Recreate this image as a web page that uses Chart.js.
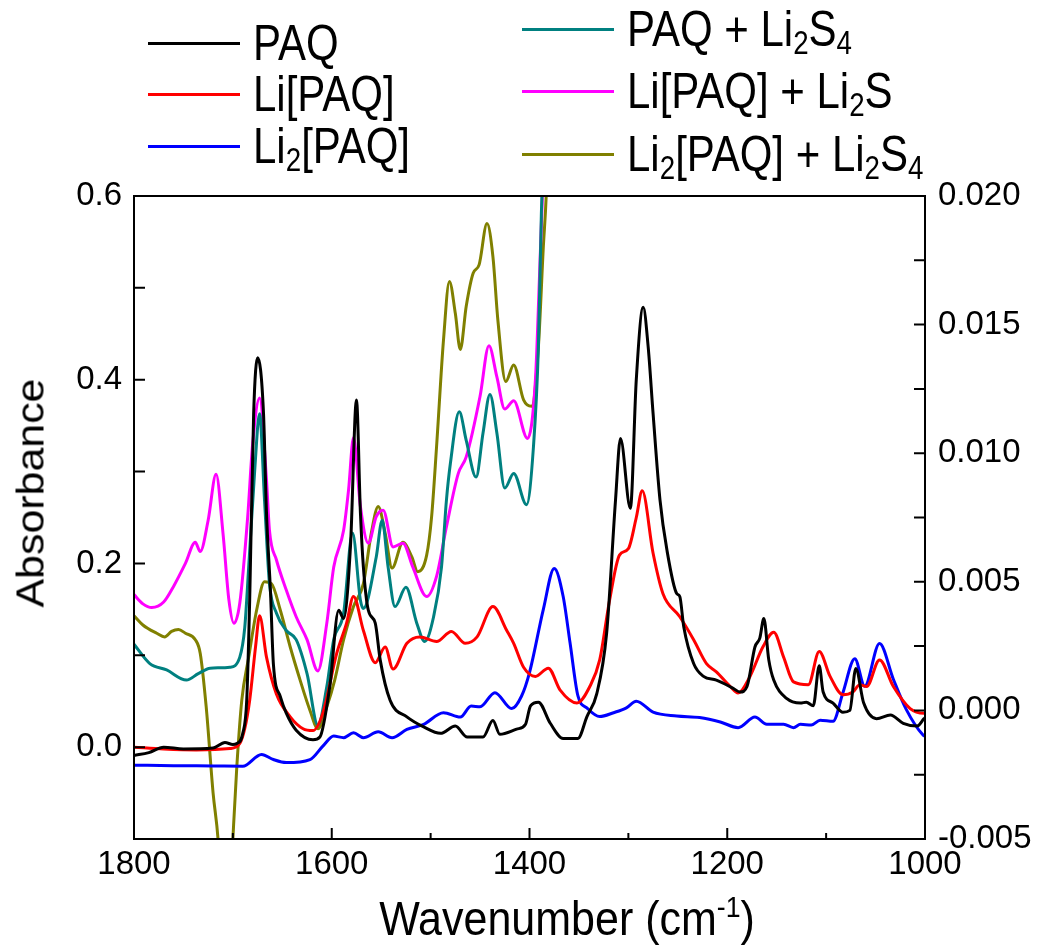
<!DOCTYPE html>
<html lang="en">
<head>
<meta charset="UTF-8">
<title>FTIR spectra</title>
<script src="https://cdn.jsdelivr.net/npm/chart.js@4.4.1/dist/chart.umd.min.js"></script>
<style>
    body { margin: 0; background: #fff; }
    #wrap {
        position: relative;
        width: 1039px;
        height: 949px;
        font-family: "Liberation Sans", Arial, sans-serif;
        color: #000;
    }
    #wrap canvas { position: absolute; left: 0; top: 0; }
    .row {
        position: absolute;
        height: 42px;
        display: flex;
        align-items: center;
        transform: translateY(-50%);
        font-size: 42px;
        line-height: 1;
        white-space: nowrap;
    }
    .row .txt { display: inline-block; transform: scaleY(1.2); }
    .swatch {
        display: inline-block;
        width: 92px;
        height: 0;
        border-top: 3px solid;
        margin-right: 13px;
    }
    .title { position: absolute; line-height: 1; white-space: nowrap; }
    sub { font-size: 0.66em; vertical-align: -0.26em; line-height: 0; }
    sup { font-size: 0.62em; vertical-align: 0.62em; line-height: 0; }
</style>
</head>
<body>
<div id="wrap">
    <canvas id="spec" width="1039" height="949"></canvas>

    <!-- legend, left column -->
    <div class="row" style="left:148px; top:43px;"><span class="swatch" style="color:#000000"></span><span class="txt">PAQ</span></div>
    <div class="row" style="left:148px; top:94px;"><span class="swatch" style="color:#ff0000"></span><span class="txt">Li[PAQ]</span></div>
    <div class="row" style="left:148px; top:146px;"><span class="swatch" style="color:#0000ff"></span><span class="txt">Li<sub>2</sub>[PAQ]</span></div>
    <!-- legend, right column -->
    <div class="row" style="left:522px; top:29px;"><span class="swatch" style="color:#008080"></span><span class="txt">PAQ + Li<sub>2</sub>S<sub>4</sub></span></div>
    <div class="row" style="left:522px; top:91px;"><span class="swatch" style="color:#ff00ff"></span><span class="txt">Li[PAQ] + Li<sub>2</sub>S</span></div>
    <div class="row" style="left:522px; top:154px;"><span class="swatch" style="color:#808000"></span><span class="txt">Li<sub>2</sub>[PAQ] + Li<sub>2</sub>S<sub>4</sub></span></div>

    <div class="title" style="font-size:39px; left:30px; top:493px; transform:translate(-50%,-50%) rotate(-90deg) scaleX(1.1);">Absorbance</div>
    <div class="title" style="font-size:43px; left:567px; top:898px; transform:translateX(-50%) scaleY(1.1);">Wavenumber (cm<sup>-1</sup>)</div>
</div>
<script>
// [wavenumber, absorbance] pairs for each spectrum
const paq = [[1800,-0.009],[1785,-0.006],[1770,0.0],[1750,-0.002],[1720,-0.001],[1708,0.005],[1700,0.003],[1696,0.004],
    [1690,0.015],[1686,0.051],[1683,0.16],[1679,0.363],[1675,0.424],[1669,0.363],[1666,0.255],[1662,0.17],[1659,0.09],
    [1652,0.055],[1646,0.037],[1636,0.0185],[1619,0.008],[1612,0.011],[1602,0.066],[1593,0.149],[1588,0.14],[1581,0.22],
    [1575,0.378],[1571,0.255],[1568,0.196],[1563,0.149],[1556,0.135],[1551,0.095],[1541,0.051],[1524,0.033],[1507,0.022],
    [1490,0.015],[1475,0.023],[1463,0.011],[1447,0.011],[1437,0.029],[1430,0.014],[1413,0.0196],[1404,0.025],[1399,0.045],
    [1391,0.049],[1379,0.026],[1366,0.0095],[1351,0.0095],[1342,0.033],[1332,0.058],[1322,0.124],[1313,0.269],[1308,0.336],
    [1298,0.26],[1292,0.40],[1285,0.479],[1280,0.436],[1275,0.363],[1268,0.269],[1261,0.2145],[1251,0.167],[1248,0.164],
    [1244,0.131],[1234,0.091],[1224,0.077],[1211,0.073],[1194,0.064],[1187,0.060],[1180,0.066],[1172,0.109],[1167,0.119],
    [1163,0.140],[1158,0.095],[1153,0.073],[1140,0.053],[1126,0.048],[1120,0.049],[1113,0.045],[1107,0.0885],[1103,0.060],
    [1093,0.048],[1083,0.038],[1076,0.040],[1070,0.0857],[1062,0.048],[1049,0.031],[1035,0.035],[1022,0.026],[1008,0.023],
    [1001,0.031],[1000,0.032]];

const liPaq = [[1800,0.0],[1770,-0.002],[1737,-0.003],[1703,-0.0015],[1693,0.004],[1688,0.02],[1683,0.051],[1677,0.11],
    [1673,0.143],[1666,0.098],[1656,0.058],[1642,0.033],[1629,0.020],[1619,0.018],[1609,0.037],[1595,0.102],[1585,0.135],
    [1578,0.164],[1568,0.127],[1556,0.092],[1546,0.109],[1538,0.085],[1524,0.113],[1511,0.120],[1494,0.115],[1479,0.126],
    [1465,0.113],[1453,0.120],[1437,0.153],[1423,0.127],[1416,0.113],[1406,0.087],[1394,0.077],[1381,0.086],[1369,0.062],
    [1352,0.048],[1339,0.066],[1329,0.095],[1319,0.160],[1309,0.209],[1300,0.216],[1292,0.25],[1286,0.279],[1275,0.211],
    [1265,0.167],[1248,0.142],[1234,0.117],[1221,0.091],[1211,0.082],[1197,0.066],[1189,0.059],[1177,0.077],[1164,0.109],
    [1153,0.125],[1143,0.098],[1133,0.071],[1118,0.068],[1107,0.104],[1096,0.077],[1083,0.057],[1073,0.060],[1066,0.068],
    [1059,0.066],[1046,0.095],[1032,0.066],[1015,0.042],[1001,0.037],[1000,0.037]];

// Li2[PAQ] is read against the right-hand axis
const li2Paq = [[1800,-0.00213],[1760,-0.00215],[1720,-0.00216],[1690,-0.00217],[1671,-0.00171],[1659,-0.00191],
    [1646,-0.00203],[1622,-0.00191],[1609,-0.00139],[1598,-0.00100],[1588,-0.00106],[1578,-0.00087],[1568,-0.00106],
    [1553,-0.00083],[1539,-0.00106],[1524,-0.00074],[1507,-0.00054],[1487,-0.00009],[1470,-0.00026],[1459,0.00017],
    [1450,0.00014],[1435,0.00069],[1418,0.00007],[1408,0.00056],[1400,0.00147],[1386,0.00393],[1375,0.00552],
    [1366,0.00444],[1359,0.00263],[1351,0.00056],[1342,0.00010],[1329,-0.00024],[1315,-0.00009],[1302,0.00010],
    [1292,0.00036],[1275,-0.00007],[1251,-0.00022],[1228,-0.00028],[1207,-0.00045],[1189,-0.00067],[1172,-0.00026],
    [1160,-0.00054],[1143,-0.00054],[1133,-0.00067],[1126,-0.00054],[1115,-0.00057],[1106,-0.00038],[1093,-0.00042],
    [1083,0.00069],[1071,0.00201],[1061,0.00094],[1046,0.00260],[1032,0.00121],[1019,0.00004],[1002,-0.00096],
    [1000,-0.00101]];

const paqLi2S4 = [[1800,0.112],[1784,0.091],[1767,0.084],[1747,0.073],[1735,0.080],[1723,0.086],[1703,0.087],[1693,0.098],
    [1688,0.13],[1684,0.196],[1678,0.30],[1673,0.363],[1668,0.269],[1663,0.178],[1656,0.146],[1646,0.127],[1636,0.117],
    [1625,0.080],[1614,0.024],[1605,0.066],[1598,0.117],[1588,0.146],[1579,0.233],[1571,0.160],[1568,0.151],[1555,0.207],
    [1549,0.247],[1543,0.196],[1536,0.153],[1525,0.174],[1514,0.135],[1506,0.115],[1497,0.142],[1489,0.196],[1484,0.269],
    [1480,0.309],[1471,0.365],[1464,0.334],[1454,0.294],[1447,0.342],[1440,0.384],[1433,0.342],[1425,0.282],[1416,0.298],
    [1403,0.264],[1396,0.327],[1391,0.436],[1388,0.581],[1385,0.68]];

const liPaqLi2S = [[1800,0.166],[1791,0.156],[1782,0.152],[1770,0.158],[1760,0.175],[1748,0.200],[1738,0.223],[1733,0.213],
    [1725,0.247],[1717,0.297],[1710,0.233],[1704,0.160],[1699,0.135],[1693,0.157],[1685,0.251],[1680,0.33],[1673,0.380],
    [1666,0.291],[1663,0.236],[1656,0.204],[1646,0.171],[1636,0.142],[1625,0.117],[1614,0.083],[1605,0.135],[1598,0.196],
    [1588,0.236],[1583,0.28],[1578,0.337],[1571,0.262],[1563,0.222],[1555,0.251],[1548,0.258],[1538,0.218],[1528,0.222],
    [1518,0.196],[1504,0.164],[1494,0.186],[1484,0.240],[1472,0.298],[1464,0.316],[1450,0.382],[1441,0.437],[1433,0.403],
    [1425,0.368],[1416,0.377],[1402,0.336],[1394,0.400],[1390,0.509],[1387,0.599],[1384,0.68]];

const li2PaqLi2S4 = [[1800,0.143],[1791,0.133],[1777,0.124],[1769,0.120],[1762,0.126],[1755,0.128],[1748,0.124],
    [1738,0.117],[1733,0.102],[1727,0.044],[1720,-0.050],[1715,-0.1],[1707,-0.25],[1700,-0.1],[1696,-0.021],[1691,0.051],
    [1684,0.098],[1676,0.149],[1668,0.180],[1661,0.178],[1652,0.149],[1642,0.109],[1632,0.073],[1622,0.040],[1614,0.020],
    [1605,0.044],[1597,0.073],[1588,0.117],[1578,0.153],[1568,0.178],[1560,0.233],[1553,0.262],[1546,0.233],[1539,0.195],
    [1528,0.223],[1519,0.207],[1513,0.191],[1504,0.209],[1499,0.251],[1494,0.327],[1487,0.443],[1481,0.507],[1475,0.472],
    [1470,0.433],[1464,0.480],[1457,0.516],[1451,0.525],[1443,0.570],[1437,0.534],[1432,0.465],[1424,0.398],[1416,0.416],
    [1406,0.378],[1398,0.371],[1391,0.436],[1386,0.545],[1383,0.603],[1381,0.68]];

// tick labels
const xTicks = [1800, 1600, 1400, 1200, 1000];
const leftTicks = [0.0, 0.2, 0.4, 0.6];
const rightTicks = [-0.005, 0.000, 0.005, 0.010, 0.015, 0.020];

const FONT = '"Liberation Sans", Arial, sans-serif';
const tickFont = { family: FONT, size: 33 };

function toPoints(pairs) {
    return pairs.map(p => ({ x: p[0], y: p[1] }));
}

// box around the plot plus inward tick marks
const framePlugin = {
    id: 'frame',
    afterDatasetsDraw(chart) {
        const { ctx, chartArea: a, scales } = chart;
        ctx.save();
        ctx.strokeStyle = '#000';
        ctx.lineWidth = 2;
        ctx.beginPath();
        for (let w = 1000; w <= 1800; w += 100) {
            const x = scales.x.getPixelForValue(w);
            const len = (w % 200 === 0) ? 11 : 6;
            ctx.moveTo(x, a.bottom);
            ctx.lineTo(x, a.bottom - len);
        }
        for (let i = 0; i <= 5; i++) {
            const y = scales.y.getPixelForValue(i / 10);
            ctx.moveTo(a.left, y);
            ctx.lineTo(a.left + 11, y);
        }
        for (let i = -1; i <= 7; i++) {
            const y = scales.y1.getPixelForValue(i * 0.0025);
            ctx.moveTo(a.right, y);
            ctx.lineTo(a.right - 11, y);
        }
        ctx.stroke();
        ctx.strokeRect(a.left, a.top, a.right - a.left, a.bottom - a.top);
        ctx.restore();
    }
};

function series(label, pairs, color, axis) {
    return {
        label: label,
        data: toPoints(pairs),
        borderColor: color,
        backgroundColor: color,
        yAxisID: axis || 'y'
    };
}

const ctx = document.getElementById('spec');
const chart = new Chart(ctx, {
    type: 'line',
    data: {
        datasets: [
            series('PAQ', paq, '#000000'),
            series('Li[PAQ]', liPaq, '#ff0000'),
            series('Li2[PAQ]', li2Paq, '#0000ff', 'y1'),
            series('PAQ + Li2S4', paqLi2S4, '#008080'),
            series('Li[PAQ] + Li2S', liPaqLi2S, '#ff00ff'),
            series('Li2[PAQ] + Li2S4', li2PaqLi2S4, '#808000')
        ]
    },
    options: {
        responsive: false,
        animation: false,
        devicePixelRatio: 1,
        layout: { padding: { top: 196, left: 0, right: 0, bottom: 0 } },
        plugins: { legend: { display: false }, tooltip: { enabled: false } },
        elements: {
            point: { radius: 0 },
            line: { borderWidth: 3, cubicInterpolationMode: 'monotone' }
        },
        scales: {
            x: {
                type: 'linear',
                reverse: true,
                min: 1000,
                max: 1800,
                grid: { display: false, drawTicks: false },
                border: { display: false },
                ticks: {
                    font: tickFont, color: '#000', padding: 6,
                    maxRotation: 0, autoSkip: false,
                    callback: v => String(v)
                },
                afterBuildTicks: s => { s.ticks = xTicks.map(v => ({ value: v })); },
                afterFit: s => { s.height = 110; }
            },
            y: {
                position: 'left',
                min: -0.1,
                max: 0.6,
                grid: { display: false, drawTicks: false },
                border: { display: false },
                ticks: { font: tickFont, color: '#000', padding: 12, callback: v => v.toFixed(1) },
                afterBuildTicks: s => { s.ticks = leftTicks.map(v => ({ value: v })); },
                afterFit: s => { s.width = 134; }
            },
            y1: {
                position: 'right',
                min: -0.005,
                max: 0.020,
                grid: { display: false, drawTicks: false },
                border: { display: false },
                ticks: { font: tickFont, color: '#000', padding: 13, callback: v => v.toFixed(3) },
                afterBuildTicks: s => { s.ticks = rightTicks.map(v => ({ value: v })); },
                afterFit: s => { s.width = 114; }
            }
        }
    },
    plugins: [framePlugin]
});
</script>
</body>
</html>
